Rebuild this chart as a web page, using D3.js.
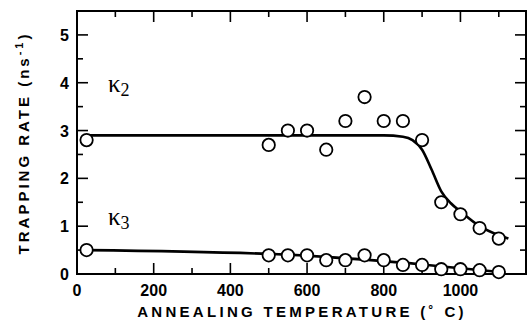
<!DOCTYPE html>
<html>
<head>
<meta charset="utf-8">
<script src="https://d3js.org/d3.v7.min.js"></script>
<style>
body { margin: 0; background: #fff; }
text { font-family: "Liberation Sans", Arial, sans-serif; font-weight: bold; fill: #000; }
.kappa { font-family: "Liberation Serif", "Times New Roman", serif; font-weight: normal; }
</style>
</head>
<body>
<div id="plot"></div>
<script>
// measured points, kappa2 (upper) and kappa3 (lower)
var temps = [25, 500, 550, 600, 650, 700, 750, 800, 850, 900, 950, 1000, 1050, 1100];
var k2 = [2.8, 2.7, 3.0, 3.0, 2.6, 3.2, 3.7, 3.2, 3.2, 2.8, 1.5, 1.25, 0.96, 0.74];
var k3 = [0.5, 0.39, 0.39, 0.39, 0.29, 0.29, 0.39, 0.29, 0.19, 0.19, 0.1, 0.1, 0.08, 0.04];

// fitted curves
var fitT2 = [25, 800, 850, 875, 900, 925, 950, 975, 1000, 1050, 1100, 1125];
var fitK2 = [2.9, 2.9, 2.87, 2.8, 2.6, 2.18, 1.73, 1.48, 1.31, 1.0, 0.81, 0.74];
var fitT3 = [25, 500, 560, 750, 900, 1000, 1117];
var fitK3 = [0.5, 0.42, 0.4, 0.3, 0.2, 0.12, 0.03];

var xTicks = [0, 200, 400, 600, 800, 1000];
var yTicks = [0, 1, 2, 3, 4, 5];

var width = 530, height = 322;
var padL = 77, padR = 526, padT = 11, padB = 274;

var svg = d3.select("#plot").append("svg")
  .attr("width", width).attr("height", height);

var xScale = d3.scaleLinear().domain([0, 1171]).range([padL, padR]);
var yScale = d3.scaleLinear().domain([0, 5.5]).range([padB, padT]);

// frame
svg.append("rect")
  .attr("x", padL).attr("y", padT)
  .attr("width", padR - padL).attr("height", padB - padT)
  .attr("fill", "none").attr("stroke", "#000").attr("stroke-width", 2);

// inward ticks on all four sides
var xMinor = d3.range(100, 1170, 200);
var yMinor = d3.range(0.5, 5.5, 1);
function tick(x1, y1, x2, y2) {
  svg.append("line").attr("x1", x1).attr("y1", y1).attr("x2", x2).attr("y2", y2)
    .attr("stroke", "#000").attr("stroke-width", 1.6);
}
xTicks.filter(function (d) { return d > 0; }).forEach(function (d) {
  tick(xScale(d), padB, xScale(d), padB - 11);
  tick(xScale(d), padT, xScale(d), padT + 11);
});
xMinor.forEach(function (d) {
  tick(xScale(d), padB, xScale(d), padB - 6);
  tick(xScale(d), padT, xScale(d), padT + 6);
});
yTicks.filter(function (d) { return d > 0; }).forEach(function (d) {
  tick(padL, yScale(d), padL + 11, yScale(d));
  tick(padR, yScale(d), padR - 11, yScale(d));
});
yMinor.forEach(function (d) {
  tick(padL, yScale(d), padL + 6, yScale(d));
  tick(padR, yScale(d), padR - 6, yScale(d));
});

// tick labels
svg.selectAll("text.xt").data(xTicks).enter().append("text")
  .attr("class", "xt")
  .attr("x", function (d) { return xScale(d); }).attr("y", 296)
  .attr("text-anchor", "middle").style("font-size", "16px")
  .text(function (d) { return d; });
svg.selectAll("text.yt").data(yTicks).enter().append("text")
  .attr("class", "yt")
  .attr("x", 69).attr("y", function (d) { return yScale(d) + 6; })
  .attr("text-anchor", "end").style("font-size", "16px")
  .text(function (d) { return d; });

// axis titles
svg.append("text")
  .attr("x", 302).attr("y", 317)
  .attr("text-anchor", "middle").style("font-size", "15px").style("letter-spacing", "3.3px")
  .text("ANNEALING TEMPERATURE (\u02DA C)");
var yt = svg.append("text")
  .attr("transform", "translate(29,143) rotate(-90)")
  .attr("text-anchor", "middle").style("font-size", "15px").style("letter-spacing", "3px");
yt.append("tspan").text("TRAPPING RATE (ns");
yt.append("tspan").attr("dy", -6).style("font-size", "11px").text("-1");
yt.append("tspan").attr("dy", 6).text(")");

// fitted curves
var line = d3.line()
  .x(function (d) { return xScale(d[0]); })
  .y(function (d) { return yScale(d[1]); })
  .curve(d3.curveMonotoneX);
svg.append("path").datum(d3.zip(fitT2, fitK2)).attr("d", line)
  .attr("fill", "none").attr("stroke", "#000").attr("stroke-width", 2.6);
svg.append("path").datum(d3.zip(fitT3, fitK3)).attr("d", line)
  .attr("fill", "none").attr("stroke", "#000").attr("stroke-width", 2.6);

// open circles
[k2, k3].forEach(function (series) {
  svg.selectAll(null).data(d3.zip(temps, series)).enter().append("circle")
    .attr("cx", function (d) { return xScale(d[0]); })
    .attr("cy", function (d) { return yScale(d[1]); })
    .attr("r", 6.2)
    .attr("fill", "#fff").attr("stroke", "#000").attr("stroke-width", 1.8);
});

// series labels
function kappa(x, y, sub) {
  var t = svg.append("text").attr("class", "kappa").attr("x", x).attr("y", y).style("font-size", "25px");
  t.append("tspan").text("\u03BA");
  t.append("tspan").attr("dy", 4).style("font-size", "18px").text(sub);
}
kappa(108, 92, "2");
kappa(108, 225, "3");
</script>
</body>
</html>
